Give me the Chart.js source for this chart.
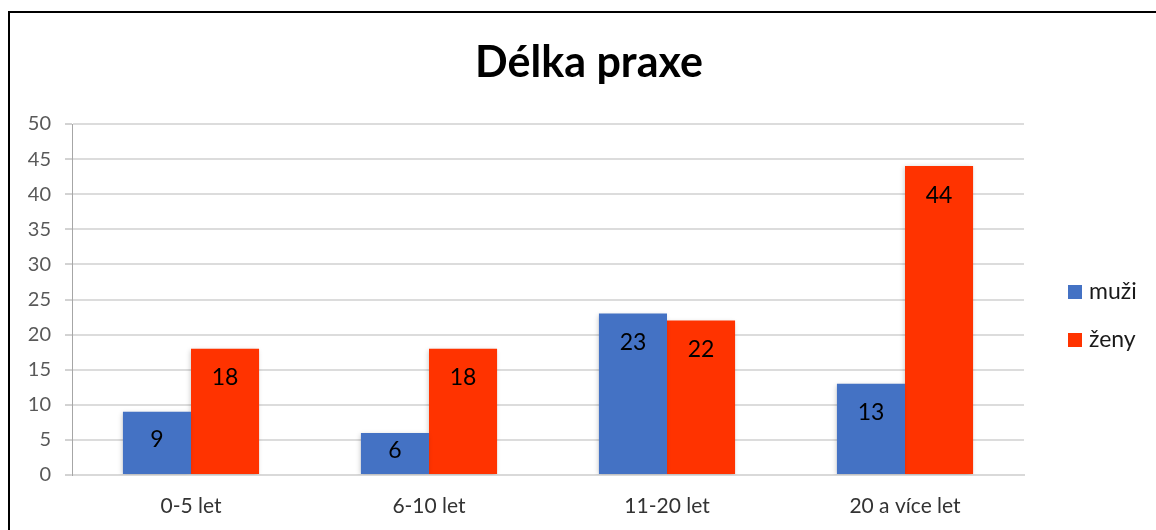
<!DOCTYPE html>
<html>
<head>
<meta charset="utf-8">
<script src="https://cdn.jsdelivr.net/npm/chart.js@4/dist/chart.umd.min.js"></script>
<style>
  html, body { margin: 0; padding: 0; background: #fff; }
  #wrap { width: 1156px; height: 530px; position: relative; }
</style>
</head>
<body>
<div id="wrap"><canvas id="c" width="1156" height="530"></canvas></div>
<script>
const titleText = 'Délka praxe';
const categories = ['0-5 let', '6-10 let', '11-20 let', '20 a více let'];
const seriesNames = ['muži', 'ženy'];
const muzi = [9, 6, 23, 13];
const zeny = [18, 18, 22, 44];
const yTicks = [0, 5, 10, 15, 20, 25, 30, 35, 40, 45, 50];

const FONT = 'Lato, "Open Sans", "DejaVu Sans", sans-serif';

const frame = {
  id: 'frame',
  beforeDraw(chart) {
    const ctx = chart.ctx;
    ctx.save();
    ctx.fillStyle = '#fff';
    ctx.fillRect(0, 0, chart.width, chart.height);
    ctx.strokeStyle = '#000';
    ctx.lineWidth = 2;
    ctx.strokeRect(9, 12, 1300, 700);
    ctx.restore();
  }
};

const chartTitle = {
  id: 'chartTitle',
  afterDraw(chart) {
    const ctx = chart.ctx;
    ctx.save();
    ctx.font = 'bold 43px ' + FONT;
    ctx.fillStyle = '#000';
    ctx.textAlign = 'center';
    ctx.textBaseline = 'middle';
    ctx.fillText(titleText, chart.width / 2 + 11, 63);
    ctx.restore();
  }
};

const barShadow = {
  id: 'barShadow',
  beforeDatasetDraw(chart) {
    const ctx = chart.ctx;
    ctx.save();
    ctx.shadowColor = 'rgba(0,0,0,0.22)';
    ctx.shadowBlur = 5;
    ctx.shadowOffsetX = -1;
    ctx.shadowOffsetY = 1;
  },
  afterDatasetDraw(chart) {
    chart.ctx.restore();
  }
};

const dataLabels = {
  id: 'dataLabels',
  afterDatasetsDraw(chart) {
    const ctx = chart.ctx;
    ctx.save();
    ctx.font = '23px ' + FONT;
    ctx.fillStyle = '#000';
    ctx.textAlign = 'center';
    ctx.textBaseline = 'middle';
    chart.data.datasets.forEach((ds, i) => {
      const meta = chart.getDatasetMeta(i);
      meta.data.forEach((bar, j) => {
        const y = Math.min(bar.y + 29, (bar.y + bar.base) / 2 - 3);
        ctx.fillText(String(ds.data[j]), bar.x, y);
      });
    });
    ctx.restore();
  }
};

const sideLegend = {
  id: 'sideLegend',
  afterDraw(chart) {
    const ctx = chart.ctx;
    const a = chart.chartArea;
    ctx.save();
    ctx.font = '23px ' + FONT;
    ctx.textBaseline = 'middle';
    ctx.textAlign = 'left';
    chart.data.datasets.forEach((ds, i) => {
      const cy = a.top + 168 + i * 48;
      const bx = a.right + 44;
      ctx.fillStyle = ds.backgroundColor;
      ctx.fillRect(bx, cy - 7, 14, 14);
      ctx.fillStyle = '#1a1a1a';
      ctx.fillText(ds.label, bx + 21, cy);
    });
    ctx.restore();
  }
};

new Chart(document.getElementById('c'), {
  type: 'bar',
  data: {
    labels: categories,
    datasets: [
      { label: seriesNames[0], data: muzi, backgroundColor: '#4472C4', borderWidth: 0 },
      { label: seriesNames[1], data: zeny, backgroundColor: '#FF3300', borderWidth: 0 }
    ]
  },
  options: {
    responsive: false,
    animation: false,
    devicePixelRatio: 1,
    layout: { padding: { left: 0, right: 132, top: 124, bottom: 0 } },
    datasets: { bar: { categoryPercentage: 0.572, barPercentage: 1.0 } },
    plugins: {
      legend: { display: false },
      tooltip: { enabled: false },
      title: { display: false }
    },
    scales: {
      x: {
        grid: { display: false, drawTicks: false },
        border: { display: true, color: '#d9d9d9', width: 2 },
        ticks: { color: '#333', font: { family: FONT, size: 21 }, padding: 19 },
        afterFit(s) { s.height = 55; }
      },
      y: {
        min: 0, max: 50,
        afterBuildTicks(s) { s.ticks = yTicks.map(v => ({ value: v })); },
        grid: { color: '#dcdcdc', lineWidth: 2, tickLength: 7, tickColor: '#a6a6a6', tickWidth: 1 },
        border: { display: true, color: '#a6a6a6', width: 1 },
        ticks: { color: '#595959', font: { family: FONT, size: 20 }, padding: 14 },
        afterFit(s) { s.width = 72; }
      }
    }
  },
  plugins: [frame, barShadow, dataLabels, sideLegend, chartTitle]
});
</script>
</body>
</html>
